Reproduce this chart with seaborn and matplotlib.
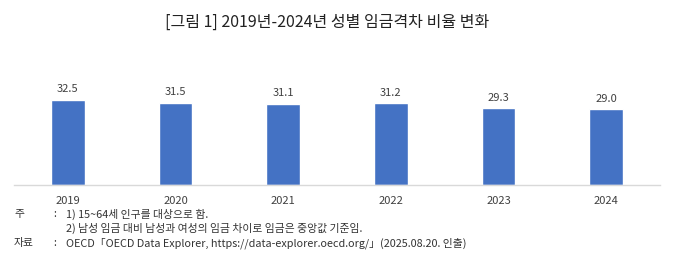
import matplotlib
matplotlib.use("Agg")
import matplotlib.pyplot as plt
import seaborn as sns
import pandas as pd

years = ["2019", "2020", "2021", "2022", "2023", "2024"]
values = [32.5, 31.5, 31.1, 31.2, 29.3, 29.0]
title = "[그림 1] 2019년-2024년 성별 임금격차 비율 변화"
note_label = "주"
note_lines = ["1) 15~64세 인구를 대상으로 함.",
              "2) 남성 임금 대비 남성과 여성의 임금 차이로 임금은 중앙값 기준임."]
source_label = "자료"
source_text = "OECD「OECD Data Explorer, https://data-explorer.oecd.org/」(2025.08.20. 인출)"

sns.set_theme(style="white")
plt.rcParams['font.family'] = ['Noto Sans CJK KR', 'DejaVu Sans']

df = pd.DataFrame({"year": years, "value": values})

fig = plt.figure(figsize=(6.8, 2.7), dpi=100)
ax = fig.add_axes([14/680, 1 - 185/270, (660-14)/680, (185-80)/270])
sns.barplot(data=df, x="year", y="value", color="#4472C4", width=0.31,
            saturation=1, ax=ax)
ax.set_ylim(0, (185 - 80) / (85 / 32.5))
ax.set_xlim(-0.5, len(years) - 0.5)
for i, v in enumerate(values):
    ax.annotate(f"{v:.1f}", (i, v), xytext=(0, 4), textcoords="offset points",
                ha="center", va="bottom", fontsize=8, color="#404040")
ax.set_xlabel("")
ax.set_ylabel("")
ax.set_yticks([])
ax.tick_params(axis="x", length=0, pad=8, labelsize=8, labelcolor="#404040")
for s in ["top", "left", "right"]:
    ax.spines[s].set_visible(False)
ax.spines["bottom"].set_color("#d9d9d9")
ax.spines["bottom"].set_linewidth(1)

fig.text(327/680, 1 - 22/270, title, ha="center", va="center", fontsize=11.5, color="#222222")

fs = 7.8
fig.text(14/680, 1 - 214/270, note_label, ha="left", va="center", fontsize=fs, color="#333333")
fig.text(53/680, 1 - 214/270, ":", ha="left", va="center", fontsize=fs, color="#333333")
fig.text(66/680, 1 - 214/270, note_lines[0], ha="left", va="center", fontsize=fs, color="#333333")
fig.text(66/680, 1 - 228/270, note_lines[1], ha="left", va="center", fontsize=fs, color="#333333")
fig.text(14/680, 1 - 243/270, source_label, ha="left", va="center", fontsize=fs, color="#333333")
fig.text(53/680, 1 - 243/270, ":", ha="left", va="center", fontsize=fs, color="#333333")
fig.text(66/680, 1 - 243/270, source_text, ha="left", va="center", fontsize=fs, color="#333333")

fig.savefig("out.png", dpi=100, facecolor="white")
